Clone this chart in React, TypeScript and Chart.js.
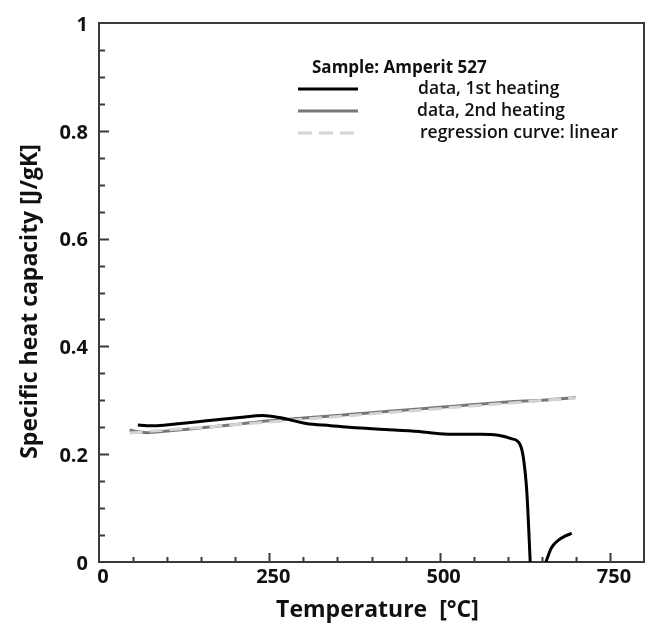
import React, { useEffect, useRef } from "react";
import { Chart, registerables } from "chart.js";

Chart.register(...registerables);

// ---- data ----
const heat1Temp = [57, 70, 85, 120, 158, 206, 240, 265, 304, 340, 371, 420, 470, 500, 530, 560, 586, 605, 618, 623, 628, 633];
const heat1Cp = [0.254, 0.253, 0.253, 0.257, 0.262, 0.268, 0.272, 0.268, 0.257, 0.253, 0.2495, 0.246, 0.242, 0.238, 0.237, 0.237, 0.235, 0.229, 0.218, 0.193, 0.13, 0];
const heat1TailTemp = [656, 664, 674, 684, 694];
const heat1TailCp = [0, 0.026, 0.04, 0.048, 0.053];

const heat2Temp = [45, 55, 70, 100, 150, 200, 250, 300, 350, 400, 450, 500, 550, 600, 650, 700];
const heat2Cp = [0.245, 0.242, 0.240, 0.243, 0.249, 0.255, 0.262, 0.267, 0.272, 0.277, 0.282, 0.287, 0.292, 0.297, 0.300, 0.305];

const regTemp = [45, 700];
const regCp = [0.2395, 0.3045];

const xTickLabels = [0, 250, 500, 750];
const yTickLabels = [0, 0.2, 0.4, 0.6, 0.8, 1];
const xMinorStep = 50;
const yMinorStep = 0.05;

const legendTitle = "Sample: Amperit 527";
const seriesNames = ["data, 1st heating", "data, 2nd heating", "regression curve: linear"];
const xTitle = "Temperature  [°C]";
const yTitle = "Specific heat capacity [J/gK]";

const FONT = "'Open Sans', 'Noto Sans', sans-serif";
const AXIS_COLOR = "#3a3a3a";
const TEXT_COLOR = "#111";
const C_HEAT1 = "#000000";
const C_HEAT2 = "#777777";
const C_REG = "#d4d4d4";

const toPts = (xs: number[], ys: number[]) => xs.map((x, i) => ({ x, y: ys[i] }));

const frameTicks = {
  id: "frameTicks",
  afterDatasetsDraw(chart: any) {
    const { ctx, chartArea: a, scales } = chart;
    const x = scales.x;
    const y = scales.y;
    ctx.save();
    ctx.strokeStyle = AXIS_COLOR;
    ctx.lineWidth = 2;
    ctx.beginPath();
    for (let k = 1; k * xMinorStep < x.max; k++) {
      const v = k * xMinorStep;
      const px = Math.round(x.getPixelForValue(v)) + 0.5;
      const major = xTickLabels.includes(v);
      ctx.moveTo(px, a.bottom);
      ctx.lineTo(px, a.bottom - (major ? 9 : 5));
    }
    const nY = Math.round((y.max - y.min) / yMinorStep);
    for (let k = 1; k < nY; k++) {
      const v = +(k * yMinorStep).toFixed(4);
      const py = Math.round(y.getPixelForValue(v)) + 0.5;
      const major = k % 4 === 0;
      ctx.moveTo(a.left, py);
      ctx.lineTo(a.left + (major ? 10 : 6), py);
    }
    ctx.stroke();
    ctx.beginPath();
    ctx.moveTo(a.left, a.top);
    ctx.lineTo(a.right, a.top);
    ctx.lineTo(a.right, a.bottom);
    ctx.stroke();
    ctx.restore();
  },
};

const textLayer = {
  id: "textLayer",
  afterDraw(chart: any) {
    const { ctx, chartArea: a } = chart;
    ctx.save();
    ctx.fillStyle = TEXT_COLOR;
    ctx.font = `bold 23px ${FONT}`;
    ctx.textAlign = "center";
    ctx.textBaseline = "middle";
    ctx.fillText(xTitle, (a.left + a.right) / 2 + 6, 610);
    ctx.save();
    ctx.translate(30, (a.top + a.bottom) / 2 + 9);
    ctx.rotate(-Math.PI / 2);
    ctx.fillText(yTitle, 0, 0);
    ctx.restore();

    ctx.textAlign = "left";
    ctx.font = `bold 17px ${FONT}`;
    ctx.fillText(legendTitle, 312, 68);
    const rows = [
      { y: 89, color: C_HEAT1, dash: [] as number[], tx: 418 },
      { y: 111, color: C_HEAT2, dash: [] as number[], tx: 417 },
      { y: 133, color: C_REG, dash: [14, 7], tx: 420 },
    ];
    rows.forEach((r, i) => {
      ctx.beginPath();
      ctx.strokeStyle = r.color;
      ctx.lineWidth = 3;
      ctx.setLineDash(r.dash);
      ctx.moveTo(298, r.y);
      ctx.lineTo(358, r.y);
      ctx.stroke();
      ctx.setLineDash([]);
      ctx.font = `600 17.5px ${FONT}`;
      ctx.fillStyle = TEXT_COLOR;
      ctx.fillText(seriesNames[i], r.tx, r.y);
    });
    ctx.restore();
  },
};

export default function App() {
  const ref = useRef<HTMLCanvasElement | null>(null);

  useEffect(() => {
    if (!ref.current) return;
    const chart = new Chart(ref.current, {
      type: "line",
      data: {
        datasets: [
          {
            label: seriesNames[0],
            data: [...toPts(heat1Temp, heat1Cp), { x: 645, y: null }, ...toPts(heat1TailTemp, heat1TailCp)] as any,
            borderColor: C_HEAT1,
            borderWidth: 3,
            pointRadius: 0,
            cubicInterpolationMode: "monotone",
            spanGaps: false,
            order: 0,
          },
          {
            label: seriesNames[2],
            data: toPts(regTemp, regCp) as any,
            borderColor: C_REG,
            borderWidth: 3,
            borderDash: [13, 7],
            pointRadius: 0,
            order: 1,
          },
          {
            label: seriesNames[1],
            data: toPts(heat2Temp, heat2Cp) as any,
            borderColor: C_HEAT2,
            borderWidth: 3,
            pointRadius: 0,
            cubicInterpolationMode: "monotone",
            order: 2,
          },
        ],
      },
      options: {
        animation: false,
        responsive: false,
        devicePixelRatio: 1,
        layout: { padding: { top: 17, right: 5, left: 0, bottom: 0 } },
        plugins: {
          legend: { display: false },
          tooltip: { enabled: false },
        },
        scales: {
          x: {
            type: "linear",
            min: 0,
            max: 800,
            grid: { display: false, drawTicks: false },
            border: { display: true, color: AXIS_COLOR, width: 2 },
            afterBuildTicks: (s: any) => {
              s.ticks = xTickLabels.map((v) => ({ value: v }));
            },
            ticks: {
              autoSkip: false,
              maxRotation: 0,
              padding: 3,
              labelOffset: 4,
              color: TEXT_COLOR,
              font: { family: FONT, size: 20, weight: "bold" },
              callback: (v: any) => String(v),
            },
            title: { display: false },
            afterFit: (s: any) => {
              s.height = 69;
            },
          },
          y: {
            type: "linear",
            min: 0,
            max: 1,
            grid: { display: false, drawTicks: false },
            border: { display: true, color: AXIS_COLOR, width: 2 },
            afterBuildTicks: (s: any) => {
              s.ticks = yTickLabels.map((v) => ({ value: v }));
            },
            ticks: {
              autoSkip: false,
              padding: 11,
              labelOffset: 2,
              color: TEXT_COLOR,
              font: { family: FONT, size: 20, weight: "bold" },
              callback: (v: any) => String(v),
            },
            title: { display: false },
            afterFit: (s: any) => {
              s.width = 99;
            },
          },
        },
      },
      plugins: [frameTicks, textLayer],
    });
    return () => chart.destroy();
  }, []);

  return (
    <div style={{ position: "absolute", left: 0, top: 0, width: 649, height: 631, background: "#fff" }}>
      <canvas ref={ref} width={649} height={631} style={{ display: "block" }} />
    </div>
  );
}
